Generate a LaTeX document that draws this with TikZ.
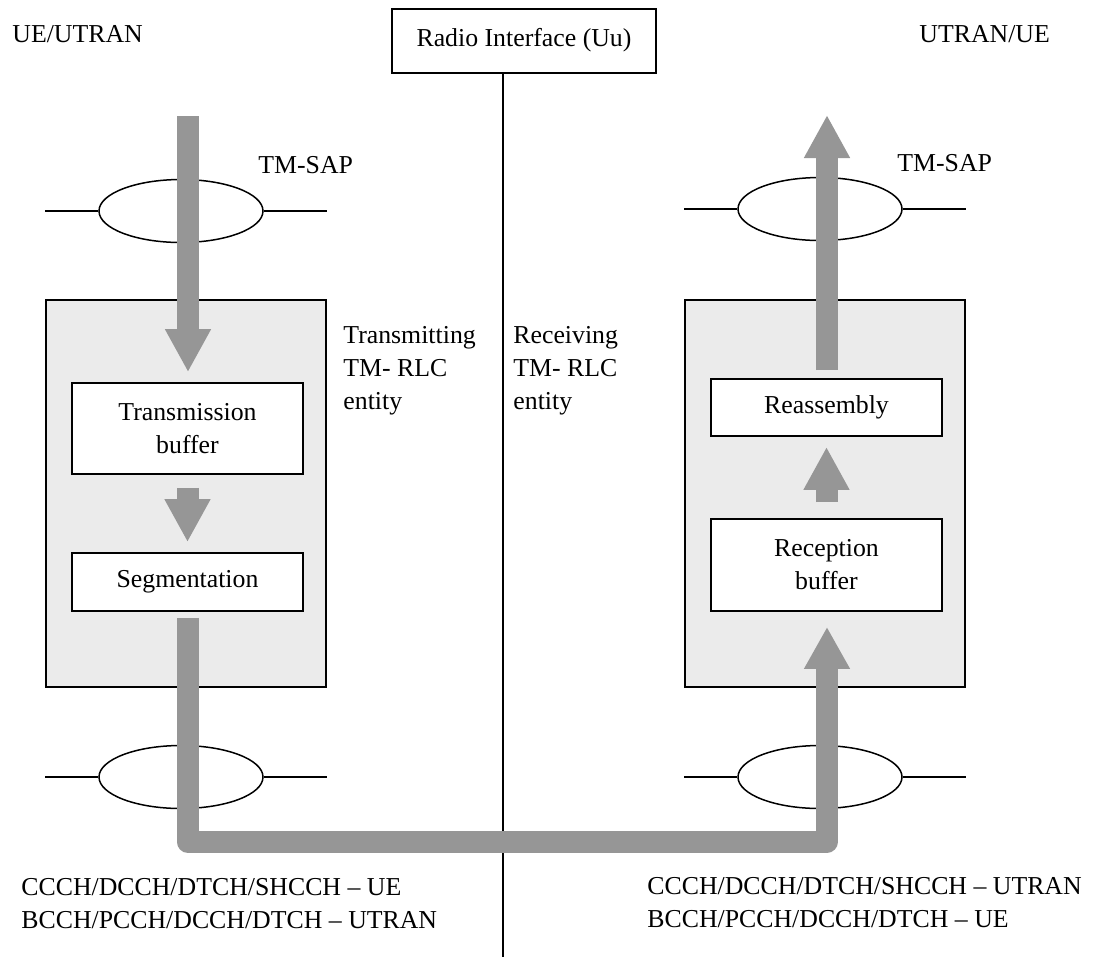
\documentclass[tikz,border=0pt]{standalone}
\usepackage{fontspec}
\setmainfont{Liberation Serif}
\usetikzlibrary{positioning, arrows.meta, shapes.geometric}
\definecolor{bandgray}{RGB}{150,150,150}

\begin{document}
\begin{tikzpicture}
    [
        x=0.5pt, y=-0.5pt, node distance=76.75pt and 319.25pt, on grid,
        text_node/.style={font=\fontsize{12.9}{16.5}\selectfont, inner sep=0pt},
        text_block/.style={text_node, align=left, anchor=north west},
        entity_box/.style={rectangle, draw=black, fill=black!8, line width=1pt, minimum width=140pt, minimum height=193.5pt},
        func_box/.style={rectangle, draw=black, fill=white, line width=0.9pt, minimum width=115.5pt, text_node, align=center},
        sap_node/.style={ellipse, draw=black, line width=0.75pt, minimum width=82pt, minimum height=31.5pt, inner sep=0pt},
        band_line/.style={draw=bandgray, line width=11pt},
        band_arrow/.style={band_line, -{Triangle[length=21.5pt, width=21.5pt]}},
    ]
        \useasboundingbox (0,0) rectangle (1093,971) ;
        \node[rectangle, draw=black, line width=1pt, text_node, minimum width=132pt, minimum height=32pt, text depth=4pt] (radio) at (524,41) {Radio Interface (Uu)} ;
        \coordinate (uuend) at (502.5,957) ;
        \draw[line width=1pt] (radio.south -| uuend) -- (uuend) ;
        \node[entity_box] (txent) at (186,493.5) {} ;
        \node[entity_box] (rxent) [right = of txent] {} ;
        \node[sap_node] (saptxtop) at (181,211) {} ;
        \node[sap_node] (saptxbot) at (181,777) {} ;
        \node[sap_node] (saprxtop) at (820,209) {} ;
        \node[sap_node] (saprxbot) at (820,777) {} ;
        \draw[line width=0.75pt] (saptxtop.west) -- (saptxtop.west -| txent.west) ;
        \draw[line width=0.75pt] (saptxtop.east) -- (saptxtop.east -| txent.east) ;
        \draw[line width=0.75pt] (saptxbot.west) -- (saptxbot.west -| txent.west) ;
        \draw[line width=0.75pt] (saptxbot.east) -- (saptxbot.east -| txent.east) ;
        \draw[line width=0.75pt] (saprxtop.west) -- (saprxtop.west -| rxent.west) ;
        \draw[line width=0.75pt] (saprxtop.east) -- (saprxtop.east -| rxent.east) ;
        \draw[line width=0.75pt] (saprxbot.west) -- (saprxbot.west -| rxent.west) ;
        \draw[line width=0.75pt] (saprxbot.east) -- (saprxbot.east -| rxent.east) ;
        \node[func_box, minimum height=45.5pt] (txbuf) at (187.5,428.5) {Transmission\\buffer} ;
        \node[func_box, minimum height=29pt] (seg) [below = of txbuf] {Segmentation} ;
        \node[func_box, minimum height=28.5pt] (reasm) at (826.5,407.5) {Reassembly} ;
        \node[func_box, minimum height=46pt] (rxbuf) [below = 78.75pt of reasm] {Reception\\buffer} ;
        \coordinate (txin) at (188,116) ;
        \coordinate (rxout) at (827,115) ;
        \coordinate (bend) at (827,841.5) ;
        \draw[band_arrow, shorten >=5pt] (txin) -- (txin |- txbuf.north) ;
        \draw[band_arrow, shorten <=6.5pt, shorten >=5pt] (txbuf.south) -- (seg.north) ;
        \draw[band_line, line join=round, -{Triangle[length=21pt, width=21.5pt]}, shorten <=3pt, shorten >=7.5pt] (seg.south) |- (bend) -- (bend |- rxbuf.south) ;
        \draw[band_arrow, shorten <=8pt, shorten >=5pt] (rxbuf.north) -- (reasm.south) ;
        \draw[band_arrow, shorten <=4pt] (rxout |- reasm.north) -- (rxout) ;
        \node[text_node, anchor=base west] (ueutran) at (12,42) {UE/UTRAN} ;
        \node[text_node, anchor=base west] (utranue) at (919,42) {UTRAN/UE} ;
        \node[text_node, anchor=base west] (saptxlbl) at (258,173) {TM-SAP} ;
        \node[text_node, anchor=base west] (saprxlbl) at (897,171) {TM-SAP} ;
        \node[text_block] (txlbl) at (343,326) {Transmitting\\TM- RLC\\entity} ;
        \node[text_block] (rxlbl) at (513,326) {Receiving\\TM- RLC\\entity} ;
        \node[text_block] (txchan) at (21,878) {CCCH/DCCH/DTCH/SHCCH -- UE\\BCCH/PCCH/DCCH/DTCH -- UTRAN} ;
        \node[text_block] (rxchan) at (647,877) {CCCH/DCCH/DTCH/SHCCH -- UTRAN\\BCCH/PCCH/DCCH/DTCH -- UE} ;
    \end{tikzpicture}
\end{document}
